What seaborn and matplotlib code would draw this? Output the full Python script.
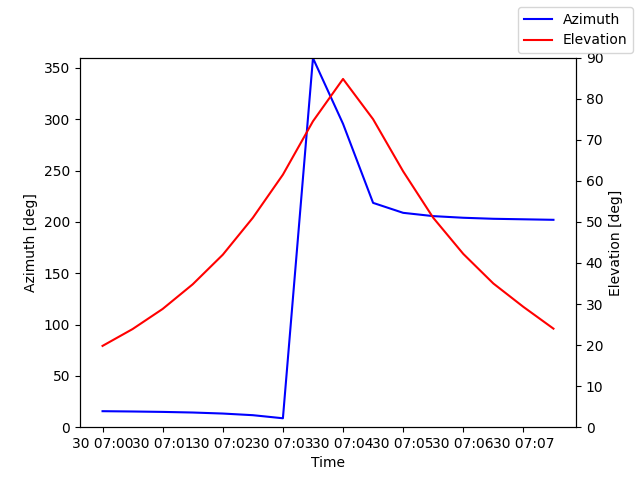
import pandas as pd
import matplotlib
matplotlib.use("Agg")
import matplotlib.pyplot as plt
import seaborn as sns

# ---------------- DATA ----------------
times = [
    "2024-01-30 07:00:00", "2024-01-30 07:00:30", "2024-01-30 07:01:00", "2024-01-30 07:01:30",
    "2024-01-30 07:02:00", "2024-01-30 07:02:30", "2024-01-30 07:03:00", "2024-01-30 07:03:30",
    "2024-01-30 07:04:00", "2024-01-30 07:04:30", "2024-01-30 07:05:00", "2024-01-30 07:05:30",
    "2024-01-30 07:06:00", "2024-01-30 07:06:30", "2024-01-30 07:07:00", "2024-01-30 07:07:30",
]
azimuth = [15.6, 15.3, 14.9, 14.3, 13.3, 11.7, 8.7, 359.5,
           295.5, 218.5, 208.8, 205.6, 204.0, 203.0, 202.5, 202.0]
elevation = [19.8, 23.9, 28.8, 34.8, 42.0, 51.0, 61.5, 74.5,
             84.8, 75.0, 62.3, 51.0, 42.2, 35.0, 29.3, 24.0]

df = pd.DataFrame({
    "time": pd.to_datetime(times),
    "azimuth": azimuth,
    "elevation": elevation,
})

# ---------------- PLOT ----------------
fig, ax = plt.subplots(figsize=(6.4, 4.8), dpi=100)
ax2 = ax.twinx()

sns.lineplot(data=df, x="time", y="azimuth", ax=ax, color="blue", label="Azimuth", legend=False)
sns.lineplot(data=df, x="time", y="elevation", ax=ax2, color="red", label="Elevation", legend=False)

ax.set_ylim(0, 360)
ax2.set_ylim(0, 90)
ax.set_xlabel("Time")
ax.set_ylabel("Azimuth [deg]")
ax2.set_ylabel("Elevation [deg]")

fig.legend(loc="upper right")

plt.savefig("out.png")
plt.close()
